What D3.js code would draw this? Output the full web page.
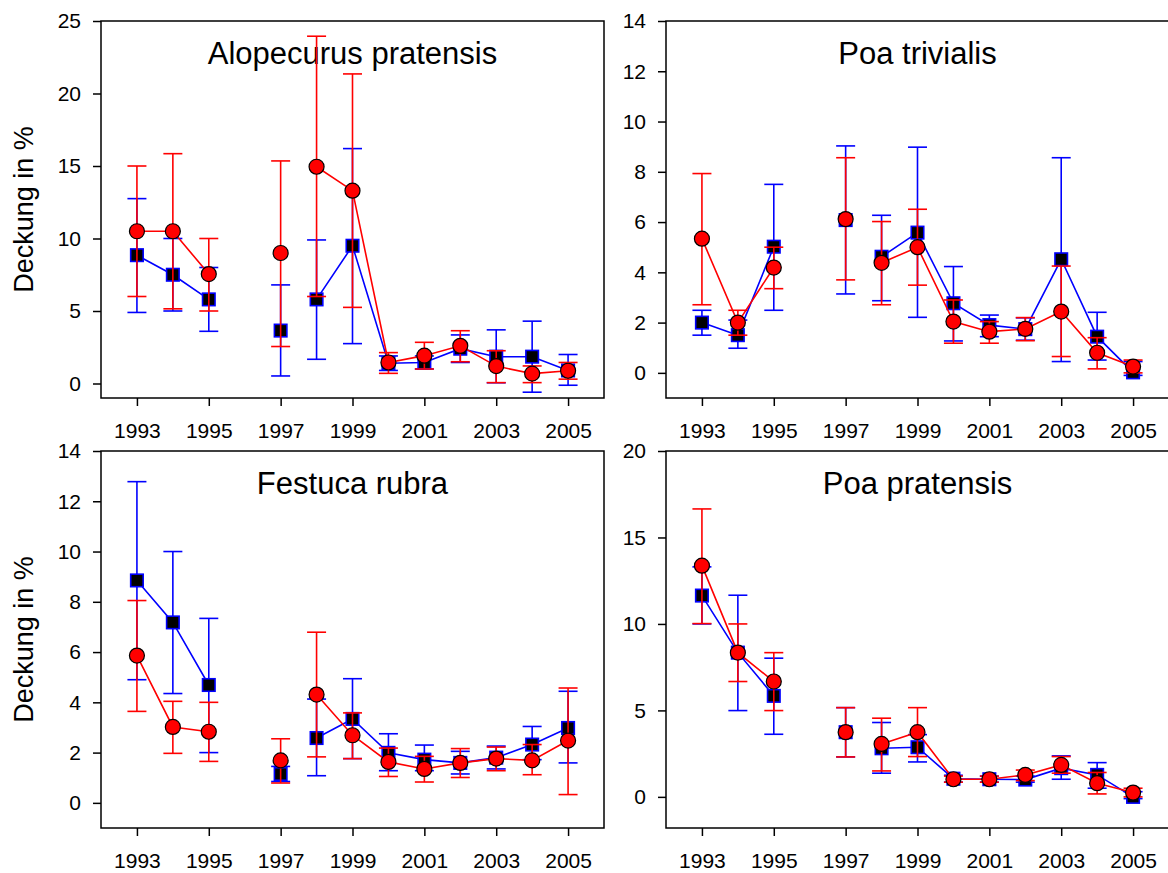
<!DOCTYPE html>
<html>
<head>
<meta charset="utf-8">
<script src="https://cdn.jsdelivr.net/npm/d3@7"></script>
<style>
  html, body { margin: 0; padding: 0; background: #ffffff; }
  svg { display: block; font-family: "Liberation Sans", Arial, sans-serif; }
</style>
</head>
<body>
<svg id="chart" width="1168" height="873"></svg>
<script>
// ---------- data ----------
const years = [1993, 1994, 1995, 1997, 1998, 1999, 2000, 2001, 2002, 2003, 2004, 2005];
const xTickYears = [1993, 1995, 1997, 1999, 2001, 2003, 2005];
// connected line segments (year ranges)
const segments = [[1993, 1995], [1997, 1997], [1998, 2005]];

const speciesNames = ["Alopecurus pratensis", "Poa trivialis", "Festuca rubra", "Poa pratensis"];
const yLabel = "Deckung in %";

const yTicksAlopecurus = [0, 5, 10, 15, 20, 25];
const yTicksTrivialis = [0, 2, 4, 6, 8, 10, 12, 14];
const yTicksFestuca = [0, 2, 4, 6, 8, 10, 12, 14];
const yTicksPratensis = [0, 5, 10, 15, 20];

const yDomainAlopecurus = [-1, 25];
const yDomainTrivialis = [-1, 14];
const yDomainFestuca = [-1, 14];
const yDomainPratensis = [-1.8, 20];

// Alopecurus pratensis
const alopBlue   = [8.85, 7.5, 5.8, 3.65, 5.8, 9.5, 1.4, 1.45, 2.4, 1.85, 1.85, 0.9];
const alopBlueLo = [4.9, 5.0, 3.6, 0.52, 1.67, 2.75, 0.9, 1.0, 1.45, 0.05, -0.6, -0.12];
const alopBlueHi = [12.75, 10.0, 8.0, 6.8, 9.9, 16.2, 1.9, 1.9, 3.35, 3.7, 4.3, 2.0];
const alopRed    = [10.5, 10.5, 7.55, 9.0, 14.95, 13.3, 1.45, 1.92, 2.6, 1.2, 0.68, 0.88];
const alopRedLo  = [6.0, 5.15, 5.0, 2.55, 6.0, 5.25, 0.7, 1.0, 1.5, 0.06, 0.06, 0.3];
const alopRedHi  = [15.0, 15.85, 10.0, 15.35, 23.95, 21.35, 2.13, 2.84, 3.64, 2.26, 1.21, 1.45];

// Poa trivialis
const trivBlue   = [2.0, 1.5, 5.02, 6.08, 4.62, 5.58, 2.77, 1.9, 1.74, 4.52, 1.44, 0.02];
const trivBlueLo = [1.5, 0.98, 2.49, 3.14, 2.87, 2.21, 1.27, 1.44, 1.3, 0.45, 0.51, -0.1];
const trivBlueHi = [2.49, 2.1, 7.5, 9.03, 6.27, 8.98, 4.23, 2.3, 2.19, 8.56, 2.41, 0.45];
const trivRed    = [5.34, 2.0, 4.19, 6.12, 4.38, 5.0, 2.04, 1.64, 1.75, 2.44, 0.8, 0.25];
const trivRedLo  = [2.71, 1.5, 3.35, 3.7, 2.71, 3.49, 1.18, 1.18, 1.28, 0.65, 0.16, 0.0];
const trivRedHi  = [7.93, 2.49, 5.0, 8.56, 6.02, 6.51, 2.9, 2.04, 2.2, 4.25, 1.4, 0.51];

// Festuca rubra
const festBlue   = [8.85, 7.18, 4.69, 1.15, 2.58, 3.34, 1.99, 1.72, 1.59, 1.8, 2.32, 2.98];
const festBlueLo = [4.9, 4.35, 2.0, 0.85, 1.08, 1.76, 1.28, 1.28, 1.15, 1.35, 1.72, 1.59];
const festBlueHi = [12.78, 10.0, 7.34, 1.45, 4.13, 4.94, 2.75, 2.3, 2.05, 2.26, 3.04, 4.44];
const festRed    = [5.86, 3.02, 2.83, 1.69, 4.31, 2.69, 1.63, 1.35, 1.59, 1.76, 1.69, 2.48];
const festRedLo  = [3.64, 1.97, 1.65, 0.79, 1.83, 1.76, 1.05, 0.83, 1.01, 1.28, 1.12, 0.33];
const festRedHi  = [8.05, 4.04, 4.0, 2.55, 6.79, 3.58, 2.18, 1.85, 2.16, 2.22, 2.32, 4.57];

// Poa pratensis
const pratBlue   = [11.64, 8.34, 5.84, 3.74, 2.81, 2.87, 1.05, 1.02, 1.0, 1.66, 1.27, 0.0];
const pratBlueLo = [10.0, 4.99, 3.62, 2.31, 1.37, 2.02, 0.85, 0.85, 0.85, 1.02, 0.5, -0.1];
const pratBlueHi = [13.3, 11.66, 8.02, 5.16, 4.3, 3.6, 1.25, 1.2, 1.2, 2.37, 1.98, 0.3];
const pratRed    = [13.37, 8.34, 6.67, 3.74, 3.06, 3.74, 1.02, 1.02, 1.27, 1.85, 0.79, 0.25];
const pratRedLo  = [10.02, 6.67, 4.99, 2.31, 1.5, 2.33, 0.85, 0.85, 0.94, 1.37, 0.17, 0.0];
const pratRedHi  = [16.65, 10.0, 8.34, 5.16, 4.55, 5.16, 1.2, 1.2, 1.55, 2.33, 1.41, 0.5];

// ---------- layout ----------
const BLUE = "#0000ff", RED = "#ff0000";
const panelW = 503, panelH = 377;
const panels = [
  { name: speciesNames[0], left: 101, top: 21,  yDomain: yDomainAlopecurus, yTicks: yTicksAlopecurus, showYLabel: true,
    blue: [alopBlue, alopBlueLo, alopBlueHi], red: [alopRed, alopRedLo, alopRedHi] },
  { name: speciesNames[1], left: 666, top: 21,  yDomain: yDomainTrivialis, yTicks: yTicksTrivialis, showYLabel: false,
    blue: [trivBlue, trivBlueLo, trivBlueHi], red: [trivRed, trivRedLo, trivRedHi] },
  { name: speciesNames[2], left: 101, top: 451, yDomain: yDomainFestuca, yTicks: yTicksFestuca, showYLabel: true,
    blue: [festBlue, festBlueLo, festBlueHi], red: [festRed, festRedLo, festRedHi] },
  { name: speciesNames[3], left: 666, top: 451, yDomain: yDomainPratensis, yTicks: yTicksPratensis, showYLabel: false,
    blue: [pratBlue, pratBlueLo, pratBlueHi], red: [pratRed, pratRedLo, pratRedHi] }
];

const svg = d3.select("#chart");

panels.forEach(p => {
  const g = svg.append("g").attr("transform", `translate(${p.left},${p.top})`);
  const x = d3.scaleLinear().domain([1992, 2006]).range([0, panelW]);
  const y = d3.scaleLinear().domain(p.yDomain).range([panelH, 0]);

  // axes
  const xAxis = d3.axisBottom(x).tickValues(xTickYears).tickFormat(d3.format("d"))
    .tickSize(8).tickSizeOuter(0).tickPadding(17);
  const yAxis = d3.axisLeft(y).tickValues(p.yTicks).tickFormat(d3.format("d"))
    .tickSize(8).tickSizeOuter(0).tickPadding(12);

  const gx = g.append("g").attr("transform", `translate(0,${panelH})`).call(xAxis);
  const gy = g.append("g").call(yAxis);
  [gx, gy].forEach(a => {
    a.select(".domain").remove();
    a.selectAll(".tick line").attr("stroke", "#000").attr("stroke-width", 1.5);
    a.selectAll(".tick text").attr("fill", "#000")
      .style("font-family", '"Liberation Sans", Arial, sans-serif').style("font-size", "21px");
  });

  // frame
  g.append("rect").attr("x", 0).attr("y", 0).attr("width", panelW).attr("height", panelH)
    .attr("fill", "none").attr("stroke", "#000").attr("stroke-width", 1.5);

  // title
  g.append("text").attr("x", panelW / 2).attr("y", 43).attr("text-anchor", "middle")
    .style("font-size", "31px").attr("fill", "#000").text(p.name);

  if (p.showYLabel) {
    svg.append("text")
      .attr("transform", `translate(33,${p.top + panelH / 2}) rotate(-90)`)
      .attr("text-anchor", "middle").style("font-size", "27px").attr("fill", "#000")
      .text(yLabel);
  }

  const plot = g.append("g");

  function drawSeries(series, color, kind) {
    const [mean, lo, hi] = series;
    const pts = years.map((yr, i) => ({ yr, v: mean[i], lo: lo[i], hi: hi[i] }));
    const cap = 9.5;
    const eb = plot.append("g").attr("stroke", color).attr("stroke-width", 1.6).attr("fill", "none");
    pts.forEach(d => {
      const cx = x(d.yr);
      eb.append("line").attr("x1", cx).attr("x2", cx).attr("y1", y(d.lo)).attr("y2", y(d.hi));
      eb.append("line").attr("x1", cx - cap).attr("x2", cx + cap).attr("y1", y(d.hi)).attr("y2", y(d.hi));
      eb.append("line").attr("x1", cx - cap).attr("x2", cx + cap).attr("y1", y(d.lo)).attr("y2", y(d.lo));
    });
    const line = d3.line().x(d => x(d.yr)).y(d => y(d.v));
    segments.forEach(([a, b]) => {
      const seg = pts.filter(d => d.yr >= a && d.yr <= b);
      if (seg.length > 1) {
        plot.append("path").datum(seg).attr("d", line)
          .attr("fill", "none").attr("stroke", color).attr("stroke-width", 1.6);
      }
    });
    if (kind === "square") {
      const s = 12.5;
      plot.append("g").selectAll("rect").data(pts).join("rect")
        .attr("x", d => x(d.yr) - s / 2).attr("y", d => y(d.v) - s / 2)
        .attr("width", s).attr("height", s)
        .attr("fill", "#000").attr("stroke", color).attr("stroke-width", 1.6);
    } else {
      plot.append("g").selectAll("circle").data(pts).join("circle")
        .attr("cx", d => x(d.yr)).attr("cy", d => y(d.v)).attr("r", 7.5)
        .attr("fill", color).attr("stroke", "#000").attr("stroke-width", 1.2);
    }
  }

  drawSeries(p.blue, BLUE, "square");
  drawSeries(p.red, RED, "circle");
});
</script>
</body>
</html>
